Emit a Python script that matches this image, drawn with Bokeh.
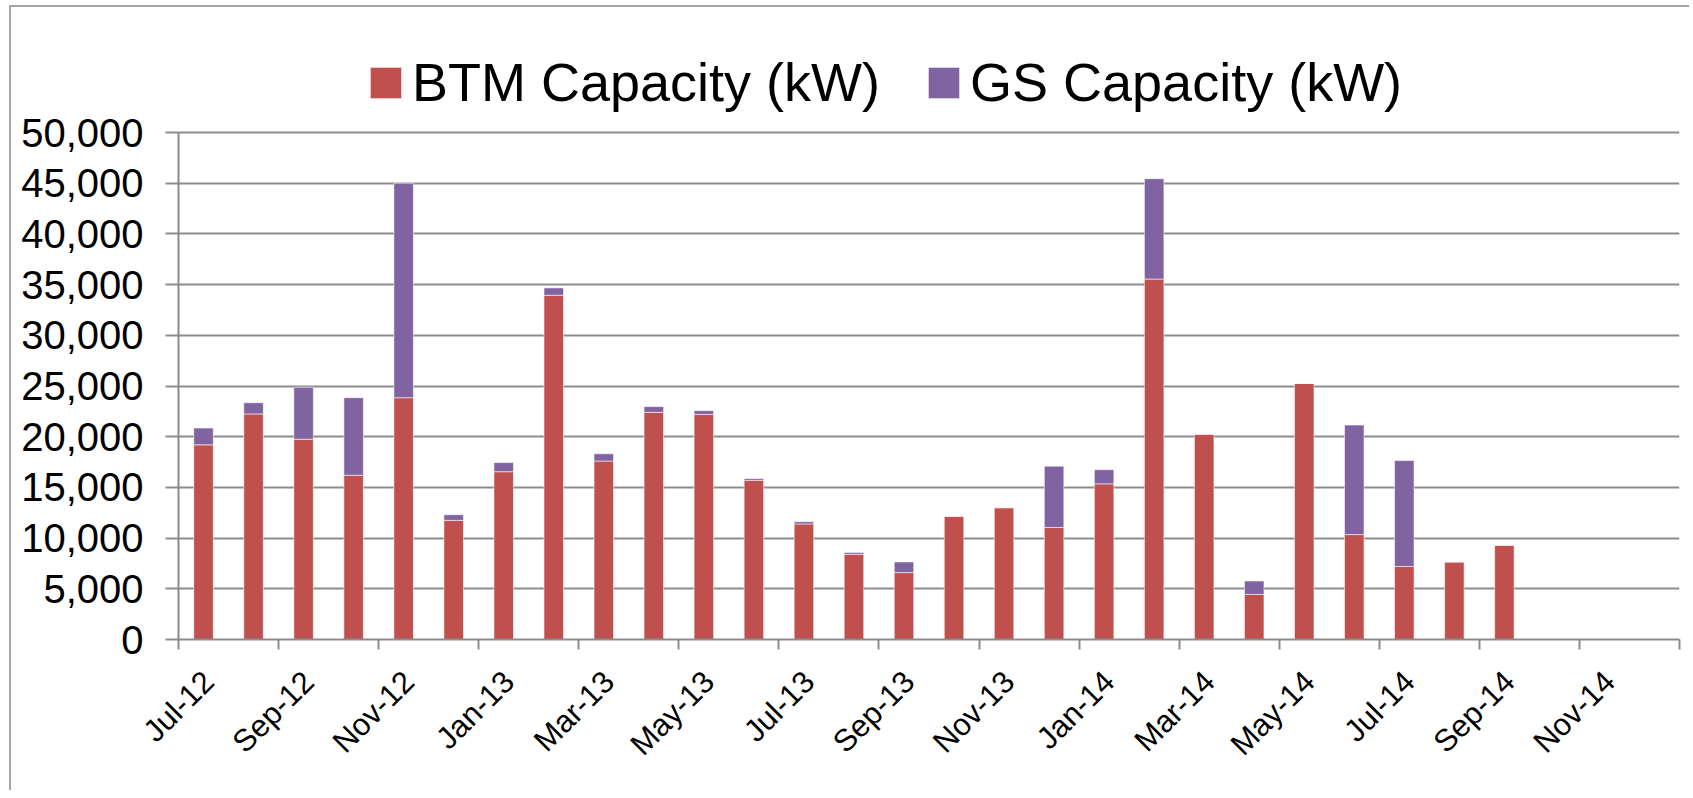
import math
from bokeh.plotting import figure
from bokeh.models import (ColumnDataSource, Range1d, FixedTicker, LinearAxis,
                          NumeralTickFormatter, Legend, LegendItem)
from bokeh.embed import file_html
from bokeh.resources import INLINE

# ---- data ----
months = ["Jul-12", "Aug-12", "Sep-12", "Oct-12", "Nov-12", "Dec-12",
          "Jan-13", "Feb-13", "Mar-13", "Apr-13", "May-13", "Jun-13",
          "Jul-13", "Aug-13", "Sep-13", "Oct-13", "Nov-13", "Dec-13",
          "Jan-14", "Feb-14", "Mar-14", "Apr-14", "May-14", "Jun-14",
          "Jul-14", "Aug-14", "Sep-14"]
btm = [19200, 22250, 19750, 16200, 23850, 11750,
       16550, 33950, 17600, 22400, 22200, 15700,
       11400, 8400, 6600, 12150, 13000, 11050,
       15350, 35550, 20250, 4450, 25250, 10350,
       7200, 7650, 9300]
gs = [1650, 1100, 5130, 7650, 21150, 560,
      900, 730, 720, 570, 370, 170,
      220, 170, 1050, 0, 0, 6050,
      1400, 9900, 0, 1320, 0, 10800,
      10450, 0, 0]
tick_labels = ["Jul-12", "Sep-12", "Nov-12", "Jan-13", "Mar-13", "May-13",
               "Jul-13", "Sep-13", "Nov-13", "Jan-14", "Mar-14", "May-14",
               "Jul-14", "Sep-14", "Nov-14"]
axis_months = 30          # axis spans Jul-12 .. Dec-14
y_max = 50000
series_names = ["BTM Capacity (kW)", "GS Capacity (kW)"]
colors = ["#C0504D", "#8064A2"]

FONT = "Liberation Sans"
GRAY = "#8c8c8c"

# layout (page pixels): canvas origin at y=7, frame top at y=12,
# 50,000 gridline at y=132, zero line at y=638.7
frame_top, grid_top, zero_y = 12.0, 132.0, 638.7
y_range_top = y_max * (zero_y - frame_top) / (zero_y - grid_top)

x_pos = [i + 0.5 for i in range(len(months))]
src = ColumnDataSource(dict(x=x_pos, month=months, btm=btm, gs=gs))

p = figure(width=1680, height=785,
           x_range=Range1d(0, axis_months), y_range=Range1d(0, y_range_top),
           output_backend="svg", toolbar_location=None,
           min_border_left=167, min_border_right=12,
           min_border_top=5, min_border_bottom=153)
p.styles = {"margin-left": "9px", "margin-top": "5px",
            "border-left": "2px solid #a6a6a6", "border-top": "2px solid #a6a6a6"}
p.outline_line_color = None
p.background_fill_color = "white"
p.border_fill_color = "white"

rs = p.vbar_stack(["btm", "gs"], x="x", width=0.39, source=src,
                  color=colors, line_color="white", line_alpha=0.55, line_width=1)

# y axis
yticks = list(range(0, y_max + 1, 5000))
p.yaxis.ticker = FixedTicker(ticks=yticks)
p.yaxis.bounds = (0, y_max)
p.yaxis.formatter = NumeralTickFormatter(format="0,0")
p.yaxis.major_label_text_font = FONT
p.yaxis.major_label_text_font_size = "40px"
p.yaxis.major_label_text_color = "black"
p.yaxis.major_label_standoff = 22
p.yaxis.axis_line_color = GRAY
p.yaxis.axis_line_width = 2
p.yaxis.major_tick_line_color = GRAY
p.yaxis.major_tick_line_width = 2
p.yaxis.major_tick_out = 13
p.yaxis.major_tick_in = 0
p.yaxis.minor_tick_line_color = None

p.ygrid.grid_line_color = GRAY
p.ygrid.grid_line_width = 2
p.ygrid.ticker = FixedTicker(ticks=yticks)
p.xgrid.grid_line_color = None

# x axis: tick marks at month boundaries (every 2 months)
tick_pos = list(range(0, axis_months + 1, 2))
p.xaxis.ticker = FixedTicker(ticks=tick_pos)
p.xaxis.major_label_overrides = {t: "" for t in tick_pos}
p.xaxis.major_label_text_font_size = "1px"
p.xaxis.major_label_standoff = 0
p.xaxis.axis_line_color = GRAY
p.xaxis.axis_line_width = 2
p.xaxis.major_tick_line_color = GRAY
p.xaxis.major_tick_line_width = 2
p.xaxis.major_tick_out = 10
p.xaxis.major_tick_in = 0
p.xaxis.minor_tick_line_color = None

# x labels axis (rotated labels, shifted like the reference)
off = 0.6
lab_pos = [2 * i + off for i in range(len(tick_labels))]
ax2 = LinearAxis(ticker=FixedTicker(ticks=lab_pos),
                 major_label_overrides={v: s for v, s in zip(lab_pos, tick_labels)},
                 axis_line_color=None, major_tick_line_color=None,
                 minor_tick_line_color=None,
                 major_label_orientation=math.pi / 4,
                 major_label_text_font=FONT,
                 major_label_text_font_size="31px",
                 major_label_text_color="black",
                 major_label_standoff=21)
p.add_layout(ax2, "below")

legend = Legend(items=[LegendItem(label=series_names[0], renderers=[rs[0]]),
                       LegendItem(label=series_names[1], renderers=[rs[1]])],
                orientation="horizontal", location=(188, 526),
                label_text_font=FONT, label_text_font_size="54px",
                label_text_color="black",
                glyph_width=39, glyph_height=39, label_standoff=7, spacing=44,
                padding=0, margin=0, border_line_color=None,
                background_fill_alpha=0)
p.add_layout(legend, "center")

open("out.html", "w").write(file_html(p, INLINE))
